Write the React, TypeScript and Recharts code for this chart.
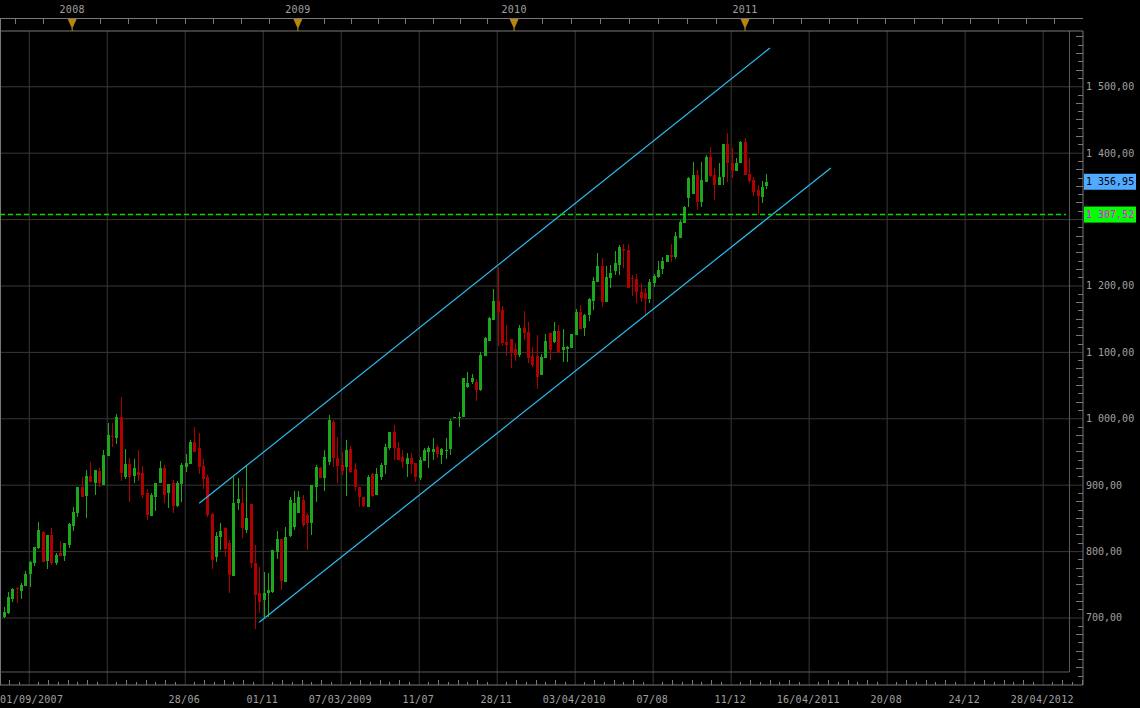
import { ComposedChart, Bar, XAxis, YAxis, CartesianGrid, ReferenceLine } from 'recharts'

const WIDTH = 1140
const HEIGHT = 708
const PLOT_TOP = 31
const PLOT_BOTTOM = 685
const PLOT_RIGHT = 1083

const GREEN = '#1ca81c'
const RED = '#b00000'
const GRID = '#383838'
const AXIS = '#787878'
const FRAME = '#5c5c5c'
const TEXT = '#a0a0a0'
const FONT = '"DejaVu Sans Mono", monospace'

// weekly candles, index 0 = first week of September 2007
const opens = [
  701.0, 707.0, 729.1, 745.2, 741.2, 748.7, 766.3, 783.3, 804.9, 830.0,
  786.3, 824.5, 783.3, 797.4, 793.4, 809.9, 838.6, 857.6, 896.8, 884.2,
  913.9, 902.8, 921.9, 900.3, 944.0, 974.1, 971.1, 1003.2, 912.8, 931.9,
  914.4, 920.4, 917.9, 887.7, 853.6, 882.7, 903.8, 925.4, 887.7, 902.8,
  868.7, 901.8, 926.9, 931.9, 965.6, 955.5, 928.9, 911.8, 856.6, 791.4,
  822.5, 835.5, 812.4, 763.3, 872.7, 873.2, 832.5, 871.7, 782.3, 737.1,
  727.1, 737.1, 739.7, 799.9, 818.5, 754.7, 823.5, 837.5, 857.6, 877.7,
  855.1, 842.6, 897.8, 925.4, 911.3, 935.4, 995.7, 940.5, 931.0, 927.9,
  954.0, 925.0, 897.0, 882.0, 866.7, 916.9, 885.2, 913.0, 930.4, 956.5,
  980.6, 955.5, 943.0, 931.4, 940.5, 933.0, 910.3, 936.4, 950.5, 950.5,
  957.0, 945.5, 952.5, 954.0, 1001.7, 1001.2, 1002.2, 1048.4, 1055.0, 1055.9,
  1043.4, 1094.6, 1117.7, 1148.8, 1177.4, 1163.8, 1116.2, 1119.7, 1104.6, 1096.1,
  1137.2, 1130.7, 1094.6, 1094.6, 1066.0, 1092.1, 1128.7, 1116.2, 1132.2, 1103.6,
  1105.1, 1106.1, 1126.2, 1161.3, 1136.2, 1156.3, 1177.9, 1206.5, 1230.1, 1176.4,
  1212.5, 1222.0, 1232.0, 1255.7, 1254.2, 1211.5, 1210.0, 1191.5, 1190.0, 1180.4,
  1205.0, 1213.0, 1225.6, 1236.6, 1246.7, 1244.2, 1271.8, 1294.4, 1332.0, 1338.5,
  1367.2, 1327.0, 1357.1, 1394.8, 1367.2, 1352.1, 1363.6, 1413.8, 1385.7, 1373.7,
  1384.7, 1417.4, 1368.2, 1359.6, 1344.6, 1334.5, 1350.0,
]

const highs = [
  717.1, 739.2, 744.7, 746.2, 752.2, 770.3, 786.3, 807.4, 844.6, 831.5,
  825.5, 835.0, 797.4, 816.0, 813.0, 842.6, 867.7, 897.8, 911.8, 922.9,
  934.9, 922.9, 925.4, 953.0, 993.2, 993.2, 1007.2, 1033.3, 954.5, 940.5,
  939.5, 953.0, 928.9, 894.3, 887.7, 903.3, 936.4, 930.4, 901.8, 907.8,
  906.3, 932.9, 947.0, 968.1, 988.1, 978.1, 939.0, 915.4, 857.6, 830.0,
  842.6, 836.5, 817.5, 912.8, 910.3, 895.3, 930.4, 871.7, 809.9, 777.3,
  769.8, 767.3, 802.4, 831.0, 818.5, 837.5, 881.7, 891.8, 891.3, 885.2,
  857.6, 900.3, 930.4, 927.9, 953.0, 1005.7, 998.2, 973.1, 950.0, 968.1,
  959.0, 933.0, 897.8, 882.7, 915.4, 917.9, 925.4, 933.9, 961.5, 980.6,
  990.7, 965.6, 953.0, 948.0, 948.0, 933.0, 943.0, 956.5, 959.0, 970.6,
  960.5, 955.5, 970.6, 999.2, 1002.5, 1010.7, 1060.9, 1071.0, 1067.0, 1059.4,
  1101.1, 1123.7, 1153.8, 1195.5, 1229.1, 1169.9, 1141.3, 1119.7, 1114.7, 1141.3,
  1162.3, 1146.3, 1107.6, 1126.2, 1097.6, 1127.7, 1128.7, 1145.8, 1141.3, 1134.7,
  1109.6, 1127.7, 1165.4, 1171.4, 1157.3, 1181.4, 1213.0, 1249.7, 1242.7, 1230.1,
  1231.6, 1253.2, 1261.7, 1263.2, 1263.2, 1216.6, 1218.1, 1204.0, 1196.5, 1210.0,
  1218.1, 1238.1, 1244.2, 1246.7, 1263.2, 1281.8, 1299.4, 1320.5, 1363.6, 1386.2,
  1374.7, 1387.2, 1397.3, 1408.8, 1377.2, 1384.7, 1413.8, 1429.9, 1407.3, 1392.3,
  1418.9, 1422.4, 1392.3, 1363.6, 1352.1, 1358.6, 1368.7,
]

const lows = [
  699.5, 706.0, 724.6, 723.1, 728.1, 748.7, 747.2, 778.8, 803.4, 784.3,
  774.3, 779.8, 779.3, 793.4, 785.8, 805.9, 831.5, 851.6, 881.7, 850.6,
  905.3, 885.2, 897.8, 900.3, 944.0, 958.0, 962.0, 906.8, 908.8, 874.7,
  902.8, 906.8, 880.2, 847.6, 853.6, 861.6, 902.8, 872.7, 866.2, 858.6,
  867.7, 875.2, 920.4, 931.9, 950.5, 916.9, 894.8, 852.6, 774.3, 784.8,
  802.4, 792.4, 738.2, 763.3, 862.6, 820.0, 827.5, 774.8, 683.4, 707.0,
  702.0, 702.0, 738.2, 788.9, 742.2, 754.7, 822.5, 832.5, 857.6, 837.5,
  802.4, 825.0, 875.2, 910.3, 891.8, 930.4, 927.9, 902.8, 915.0, 884.2,
  918.0, 892.0, 866.7, 866.7, 866.7, 882.7, 885.2, 907.8, 917.0, 953.0,
  938.0, 938.0, 925.4, 912.8, 917.0, 905.3, 907.8, 936.4, 925.4, 938.0,
  940.5, 931.9, 939.0, 945.5, 1001.0, 988.1, 1002.2, 1045.9, 1053.0, 1027.3,
  1042.4, 1094.6, 1117.7, 1148.8, 1110.1, 1110.1, 1094.6, 1076.0, 1087.5, 1093.6,
  1118.7, 1083.5, 1078.5, 1044.9, 1066.0, 1091.1, 1088.5, 1113.6, 1098.6, 1086.0,
  1086.0, 1106.1, 1126.2, 1134.7, 1124.7, 1147.8, 1163.8, 1206.5, 1167.9, 1176.4,
  1196.5, 1216.6, 1217.0, 1226.6, 1196.5, 1185.4, 1174.9, 1176.4, 1156.3, 1173.9,
  1199.0, 1211.5, 1218.1, 1235.6, 1236.6, 1240.2, 1271.8, 1294.4, 1318.5, 1338.5,
  1314.4, 1319.5, 1357.1, 1364.6, 1329.5, 1352.1, 1352.1, 1357.1, 1362.1, 1373.7,
  1384.7, 1367.2, 1354.6, 1335.5, 1307.5, 1324.5, 1346.1,
]

const closes = [
  708.5, 731.1, 743.2, 743.2, 749.7, 766.3, 784.8, 806.4, 832.5, 784.8,
  824.5, 782.3, 794.9, 793.9, 812.4, 841.6, 859.6, 896.8, 881.7, 913.9,
  905.3, 922.9, 902.8, 945.5, 975.6, 972.1, 1003.2, 917.9, 931.9, 912.8,
  925.9, 915.4, 885.2, 855.1, 885.2, 902.8, 926.4, 885.2, 901.3, 868.7,
  903.8, 929.9, 932.9, 965.1, 950.5, 927.9, 909.8, 855.1, 787.3, 823.5,
  831.0, 803.4, 764.8, 872.7, 879.7, 835.5, 850.6, 782.3, 734.6, 724.6,
  737.1, 742.2, 802.4, 818.5, 755.7, 822.5, 877.7, 872.7, 882.7, 840.1,
  842.6, 900.3, 927.9, 911.3, 943.0, 998.2, 940.5, 929.4, 922.0, 953.0,
  920.4, 897.0, 882.0, 868.0, 912.8, 884.2, 916.9, 930.4, 958.0, 979.6,
  955.5, 938.0, 935.4, 940.5, 931.4, 911.8, 938.0, 953.0, 955.5, 954.0,
  947.0, 954.0, 953.5, 997.2, 1002.2, 1003.2, 1060.9, 1054.4, 1062.0, 1043.4,
  1096.1, 1122.2, 1151.3, 1177.4, 1161.3, 1113.6, 1111.1, 1098.6, 1096.1, 1137.2,
  1129.7, 1091.1, 1081.0, 1063.4, 1093.6, 1117.2, 1103.6, 1132.2, 1099.6, 1108.6,
  1108.6, 1127.7, 1161.3, 1135.7, 1156.3, 1179.9, 1207.5, 1230.1, 1176.4, 1214.0,
  1219.1, 1234.0, 1258.0, 1253.2, 1196.5, 1210.0, 1191.5, 1181.4, 1180.4, 1206.5,
  1215.6, 1224.1, 1238.1, 1246.7, 1243.2, 1275.3, 1296.9, 1319.5, 1362.1, 1367.2,
  1327.0, 1359.6, 1394.8, 1365.6, 1352.1, 1363.6, 1413.8, 1385.7, 1373.7, 1385.7,
  1417.4, 1367.2, 1358.1, 1342.1, 1335.5, 1349.6, 1356.95,
]

const dateLabels = [
  '01/09/2007', '', '28/06', '01/11', '07/03/2009', '11/07', '28/11',
  '03/04/2010', '07/08', '11/12', '16/04/2011', '20/08', '24/12', '28/04/2012',
]
const yearLabels = ['2008', '2009', '2010', '2011']
const yearWeeks = [15.9, 68, 117.9, 171.2]
const priceTicks = [700, 800, 900, 1000, 1100, 1200, 1300, 1400, 1500]

const lastPrice = 1356.95
const supportPrice = 1307.52
const channelUpper = [{ x: 45.24, y: 872.7 }, { x: 176.95, y: 1558.4 }]
const channelLower = [{ x: 59.09, y: 693.5 }, { x: 191.0, y: 1377.7 }]

const X_DOMAIN: [number, number] = [-0.75, 249.2]
const Y_DOMAIN: [number, number] = [599.1, 1584]
const FRAME_WEEK = 246.07
const FRAME_PRICE = 618.7
const SUPPORT_END = 245.27

const candles = opens.map((open, i) => ({
  i,
  open,
  high: highs[i],
  low: lows[i],
  close: closes[i],
}))

const majorWeeks = dateLabels.map((_, k) => 6 + 18 * k)
const bottomTicks: number[] = []
for (let n = -3; 6 + 2.25 * n <= X_DOMAIN[1]; n++) bottomTicks.push(6 + 2.25 * n)

const topTicks: number[] = [...yearWeeks]
for (let n = 1; n <= 2; n++) topTicks.push(yearWeeks[0] - 6.5 * n)
for (let k = 0; k < yearWeeks.length - 1; k++) {
  const step = (yearWeeks[k + 1] - yearWeeks[k]) / 8
  for (let n = 1; n < 8; n++) topTicks.push(yearWeeks[k] + step * n)
}
for (let w = yearWeeks[yearWeeks.length - 1] + 6.5; w < X_DOMAIN[1]; w += 6.5) topTicks.push(w)
topTicks.sort((a, b) => a - b)

const yTicks: number[] = []
for (let v = 612.5; v <= 1575; v += 12.5) yTicks.push(v)

const fmtPrice = (v: number) => {
  const [int, dec] = v.toFixed(2).split('.')
  return `${int.replace(/\B(?=(\d{3})+(?!\d))/g, ' ')},${dec}`
}

function Candle(props: any) {
  const { x, y, width, height, payload } = props
  if (!payload) return null
  const top = Math.min(y, y + height)
  const h = Math.abs(height)
  const range = payload.high - payload.low
  const k = range > 0 ? h / range : 0
  const cx = Math.round(x + width / 2)
  const color = payload.close >= payload.open ? GREEN : RED
  const bTop = top + (payload.high - Math.max(payload.open, payload.close)) * k
  const bBot = top + (payload.high - Math.min(payload.open, payload.close)) * k
  return (
    <g shapeRendering="crispEdges">
      <rect x={cx} y={top} width={1} height={Math.max(h, 1)} fill={color} />
      <rect x={cx - 1} y={bTop} width={3} height={Math.max(bBot - bTop, 1)} fill={color} />
    </g>
  )
}

function BottomTick(props: any) {
  const { x, payload } = props
  const n = Math.round((payload.value - 6) / 2.25)
  if (n >= 0 && n % 8 === 0) {
    const label = dateLabels[n / 8]
    if (!label) return <g />
    const w = label.length * 6.3
    const left = Math.max(0, x - w / 2 - 1)
    return (
      <text x={left} y={699} dominantBaseline="central" fill={TEXT}
        fontFamily={FONT} fontSize={10} letterSpacing={0.3}>
        {label}
      </text>
    )
  }
  const len = n % 2 === 0 ? 5 : 3
  return <line x1={x} x2={x} y1={PLOT_BOTTOM} y2={PLOT_BOTTOM - len} stroke={AXIS} shapeRendering="crispEdges" />
}

function TopTick(props: any) {
  const { x, payload } = props
  const k = yearWeeks.indexOf(payload.value)
  if (k >= 0) {
    return (
      <g>
        <text x={x} y={9} textAnchor="middle" dominantBaseline="central" fill={TEXT}
          fontFamily={FONT} fontSize={10} letterSpacing={0.3}>
          {yearLabels[k]}
        </text>
        <polygon points={`${x - 4.5},19 ${x + 4.5},19 ${x},29`} fill="#b8860b" />
        <line x1={x} x2={x} y1={28} y2={PLOT_TOP} stroke="#b8860b" />
      </g>
    )
  }
  return <line x1={x} x2={x} y1={18} y2={24} stroke={AXIS} shapeRendering="crispEdges" />
}

function PriceTick(props: any) {
  const { y, payload } = props
  const v = payload.value
  if (v % 100 === 0) {
    if (Math.abs(v - supportPrice) < 15 || Math.abs(v - lastPrice) < 15) return <g />
    return (
      <text x={PLOT_RIGHT + 3} y={y} dominantBaseline="central" fill={TEXT}
        fontFamily={FONT} fontSize={10}>
        {fmtPrice(v)}
      </text>
    )
  }
  const len = v % 25 === 0 ? 7 : 5
  return <line x1={PLOT_RIGHT - len} x2={PLOT_RIGHT} y1={y} y2={y} stroke={AXIS} shapeRendering="crispEdges" />
}

function PriceTag({ viewBox, value, bg, fg }: any) {
  if (!viewBox) return null
  const left = viewBox.x + viewBox.width + 1
  return (
    <g>
      <rect x={left} y={viewBox.y - 8} width={52} height={16} fill={bg} />
      <text x={left + 2} y={viewBox.y} dominantBaseline="central" fill={fg}
        fontFamily={FONT} fontSize={10}>
        {fmtPrice(value)}
      </text>
    </g>
  )
}

export default function App() {
  return (
    <div style={{ position: 'absolute', left: 0, top: 0, width: WIDTH, height: HEIGHT, background: '#000', overflow: 'hidden' }}>
      <div style={{ position: 'absolute', left: 0, top: 18, width: PLOT_RIGHT, height: 1, background: AXIS }} />
      <div style={{ position: 'absolute', left: 0, top: 18, width: 1, height: 13, background: AXIS }} />
      <ComposedChart
        width={WIDTH}
        height={HEIGHT}
        data={candles}
        margin={{ top: 0, right: 0, bottom: 0, left: 0 }}
        style={{ position: 'absolute', left: 0, top: 0 }}
      >
        <CartesianGrid
          xAxisId="bottom"
          stroke={GRID}
          verticalValues={majorWeeks}
          horizontalValues={priceTicks}
        />
        <XAxis
          xAxisId="bottom"
          dataKey="i"
          type="number"
          domain={X_DOMAIN}
          allowDataOverflow
          ticks={bottomTicks}
          interval={0}
          height={PLOT_BOTTOM === HEIGHT ? 0 : HEIGHT - PLOT_BOTTOM}
          tick={(p: any) => <BottomTick {...p} />}
          tickLine={false}
          axisLine={{ stroke: AXIS }}
        />
        <XAxis
          xAxisId="top"
          dataKey="i"
          orientation="top"
          type="number"
          domain={X_DOMAIN}
          allowDataOverflow
          ticks={topTicks}
          interval={0}
          height={PLOT_TOP}
          tick={(p: any) => <TopTick {...p} />}
          tickLine={false}
          axisLine={{ stroke: AXIS }}
        />
        <YAxis
          orientation="right"
          type="number"
          domain={Y_DOMAIN}
          allowDataOverflow
          ticks={yTicks}
          interval={0}
          width={WIDTH - PLOT_RIGHT}
          tick={(p: any) => <PriceTick {...p} />}
          tickLine={false}
          axisLine={{ stroke: AXIS }}
        />
        <ReferenceLine xAxisId="bottom" x={-0.63} stroke={AXIS} ifOverflow="visible" />
        <ReferenceLine xAxisId="bottom" ifOverflow="visible" stroke={FRAME}
          segment={[{ x: X_DOMAIN[0], y: FRAME_PRICE }, { x: FRAME_WEEK, y: FRAME_PRICE }]} />
        <ReferenceLine xAxisId="bottom" ifOverflow="visible" stroke={FRAME}
          segment={[{ x: FRAME_WEEK, y: FRAME_PRICE }, { x: FRAME_WEEK, y: Y_DOMAIN[1] }]} />
        <ReferenceLine xAxisId="bottom" ifOverflow="visible" stroke="#2bbff0" strokeWidth={1.2}
          segment={channelUpper} />
        <ReferenceLine xAxisId="bottom" ifOverflow="visible" stroke="#2bbff0" strokeWidth={1.2}
          segment={channelLower} />
        <ReferenceLine xAxisId="bottom" ifOverflow="visible" stroke="#00e000" strokeWidth={1.5}
          strokeDasharray="5 3"
          segment={[{ x: X_DOMAIN[0], y: supportPrice }, { x: SUPPORT_END, y: supportPrice }]} />
        <Bar
          xAxisId="bottom"
          dataKey={(d: any) => [d.low, d.high]}
          barSize={3}
          shape={(p: any) => <Candle {...p} />}
          isAnimationActive={false}
        />
        <ReferenceLine xAxisId="bottom" y={lastPrice} stroke="none"
          label={(p: any) => <PriceTag viewBox={p.viewBox} value={lastPrice} bg="#50aaff" fg="#000" />} />
        <ReferenceLine xAxisId="bottom" y={supportPrice} stroke="none"
          label={(p: any) => <PriceTag viewBox={p.viewBox} value={supportPrice} bg="#00ff00" fg="#ff00ff" />} />
      </ComposedChart>
    </div>
  )
}
